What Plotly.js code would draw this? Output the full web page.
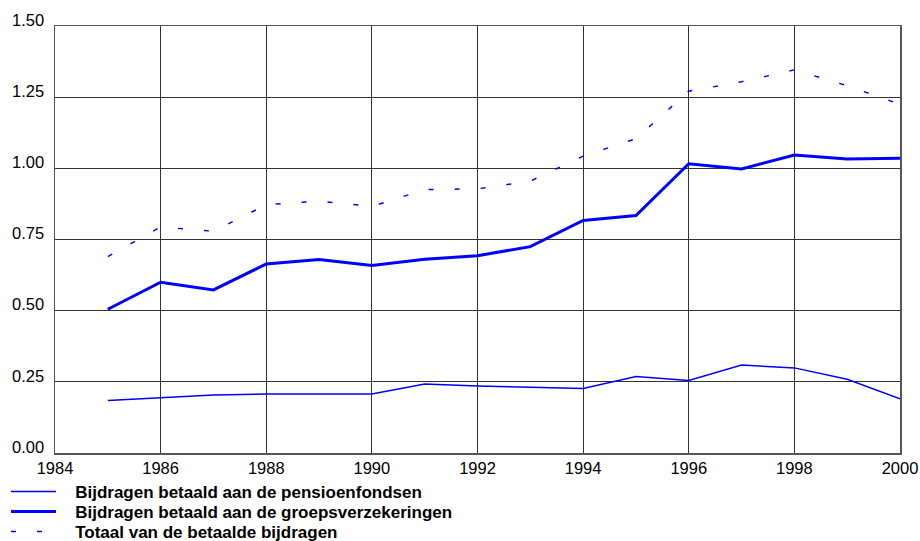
<!DOCTYPE html>
<html>
<head>
<meta charset="utf-8">
<script src="https://cdn.plot.ly/plotly-3.0.1.min.js"></script>
<style>html,body{margin:0;padding:0;background:#fff;}#chart{width:920px;height:541px;}</style>
</head>
<body>
<div id="chart"></div>
<script>
const years = [1985,1986,1987,1988,1989,1990,1991,1992,1993,1994,1995,1996,1997,1998,1999,2000];
const pensioenfondsen = [0.184,0.194,0.204,0.207,0.207,0.207,0.242,0.235,0.231,0.227,0.269,0.255,0.309,0.299,0.259,0.190];
const groepsverzekeringen = [0.505,0.600,0.573,0.664,0.680,0.659,0.681,0.693,0.725,0.817,0.834,1.016,0.998,1.047,1.033,1.035];
const totaal = [0.690,0.794,0.779,0.872,0.885,0.866,0.925,0.928,0.955,1.043,1.104,1.271,1.304,1.346,1.290,1.225];
const seriesNames = ["Bijdragen betaald aan de pensioenfondsen","Bijdragen betaald aan de groepsverzekeringen","Totaal van de betaalde bijdragen"];
const xTicks = [1984,1986,1988,1990,1992,1994,1996,1998,2000];
const yTicks = [0,0.25,0.5,0.75,1.0,1.25,1.5];
const yTickText = ["0.00","0.25","0.50","0.75","1.00","1.25","1.50"];

const blue = '#0000ff';
const pad = '\u00a0\u00a0\u00a0';
const traces = [
  {x: years, y: pensioenfondsen, name: pad + '<b>' + seriesNames[0] + '</b>', legend:'legend', type:'scatter', mode:'lines', line:{color:blue, width:1.5}},
  {x: years, y: groepsverzekeringen, name: pad + '<b>' + seriesNames[1] + '</b>', legend:'legend2', type:'scatter', mode:'lines', line:{color:blue, width:3}},
  {x: years, y: totaal, name: pad + '<b>' + seriesNames[2] + '</b>', legend:'legend3', type:'scatter', mode:'lines', line:{color:blue, width:1.5, dash:'5px,21px'}}
];
const legFont = {family:'Liberation Sans, Arial, sans-serif', size:17, color:'#000'};
function leg(yc){
  return {orientation:'v', x:-0.058, xanchor:'left', y:yc, yanchor:'middle', font:legFont,
          itemwidth:45, bgcolor:'rgba(0,0,0,0)', borderwidth:0};
}
const layout = {
  width: 920, height: 541,
  margin: {l:55, r:20, t:26, b:88, autoexpand:false},
  paper_bgcolor:'#fff', plot_bgcolor:'#fff',
  font: {family:'Liberation Sans, Arial, sans-serif', size:16.5, color:'#000'},
  showlegend: true,
  legend: leg(-0.0913),
  legend2: leg(-0.138),
  legend3: leg(-0.185),
  xaxis: {range:[1984,2000], tickvals:xTicks, ticktext:xTicks.map(String), showgrid:true, gridcolor:'#333', gridwidth:1,
          showline:true, linecolor:'#555', linewidth:1.5, mirror:true, zeroline:false, ticks:'', ticklen:0},
  yaxis: {range:[0,1.5], tickvals:yTicks, ticktext:yTickText, showgrid:true, gridcolor:'#333', gridwidth:1,
          showline:true, linecolor:'#555', linewidth:1.5, mirror:true, zeroline:false, ticks:'', ticklabelshift:-6, ticklabelstandoff:6}
};
Plotly.newPlot('chart', traces, layout, {displayModeBar:false, staticPlot:true});
</script>
</body>
</html>
